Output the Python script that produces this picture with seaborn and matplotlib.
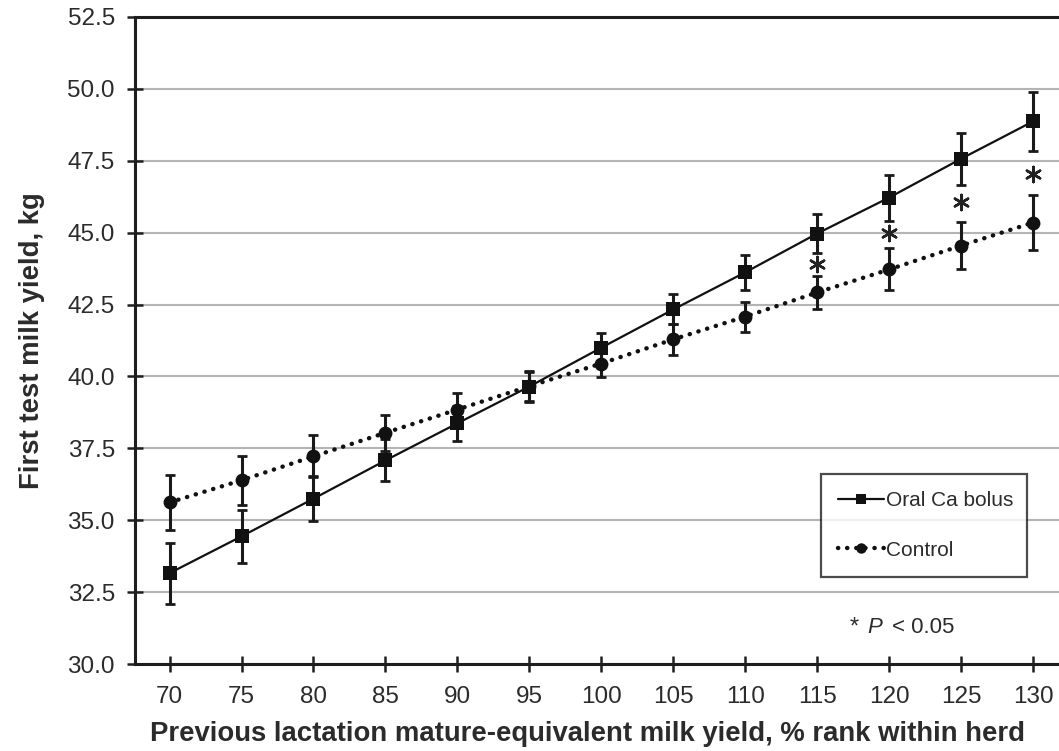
import matplotlib
matplotlib.use("Agg")
import matplotlib.pyplot as plt
import seaborn as sns
import pandas as pd

# ---- data ----
rank = [70, 75, 80, 85, 90, 95, 100, 105, 110, 115, 120, 125, 130]
bolus_mean = [33.16, 34.44, 35.75, 37.08, 38.37, 39.65, 41.00, 42.33, 43.62, 44.97, 46.22, 47.57, 48.87]
bolus_err = [1.06, 0.92, 0.78, 0.73, 0.60, 0.55, 0.50, 0.52, 0.60, 0.68, 0.80, 0.90, 1.02]
control_mean = [35.62, 36.39, 37.22, 38.04, 38.85, 39.66, 40.45, 41.29, 42.08, 42.92, 43.72, 44.55, 45.35]
control_err = [0.96, 0.86, 0.73, 0.63, 0.57, 0.50, 0.46, 0.53, 0.52, 0.58, 0.73, 0.83, 0.95]
sig_rank = [115, 120, 125, 130]
sig_y = [43.9, 45.0, 46.05, 47.05]
yticks = [30.0, 32.5, 35.0, 37.5, 40.0, 42.5, 45.0, 47.5, 50.0, 52.5]
xticks = [70, 75, 80, 85, 90, 95, 100, 105, 110, 115, 120, 125, 130]
label_bolus = "Oral Ca bolus"
label_control = "Control"

df = pd.DataFrame({"rank": rank, "bolus": bolus_mean, "control": control_mean})

sns.set_theme(style="white")
plt.rcParams["font.family"] = ["Liberation Sans", "DejaVu Sans"]

text_col = "#2b2b2b"
fig = plt.figure(figsize=(10.59, 7.51), dpi=100)
ax = fig.add_axes([0.1275, 0.1158, 0.8725, 0.8616])

ax.yaxis.grid(True, color="#b4b4b4", linewidth=1.5, zorder=0)
ax.set_axisbelow(True)

ax.errorbar(rank, bolus_mean, yerr=bolus_err, fmt="none", ecolor="#1a1a1a",
            elinewidth=2.2, capsize=3.8, capthick=2.0, zorder=3)
ax.errorbar(rank, control_mean, yerr=control_err, fmt="none", ecolor="#1a1a1a",
            elinewidth=2.2, capsize=3.8, capthick=2.0, zorder=3)

sns.lineplot(data=df, x="rank", y="bolus", ax=ax, color="#111111", linewidth=1.6,
             marker="s", markersize=10, markeredgewidth=0, label=label_bolus, zorder=4)
sns.lineplot(data=df, x="rank", y="control", ax=ax, color="#111111", linewidth=3.2,
             linestyle=(0, (0.05, 2.0)), dash_capstyle="round",
             marker="o", markersize=10, markeredgewidth=0, label=label_control, zorder=4)

ax.scatter(sig_rank, sig_y, marker=(6, 2, 0), s=120, color="#222222", linewidths=1.8, zorder=5)

ax.set_xlim(67.6, 131.8)
ax.set_ylim(30.0, 52.5)
ax.set_xticks(xticks)
ax.set_yticks(yticks)
ax.set_yticklabels([f"{v:.1f}" for v in yticks])

for side in ["left", "bottom", "top"]:
    ax.spines[side].set_visible(True)
    ax.spines[side].set_color("#1e1e1e")
    ax.spines[side].set_linewidth(2.2)
ax.spines["right"].set_visible(False)

ax.tick_params(axis="both", which="major", bottom=True, left=True, top=False, right=False,
               direction="inout", length=11, width=1.8, color="#1e1e1e",
               labelsize=17.5, labelcolor=text_col)
ax.tick_params(axis="y", pad=9)
ax.tick_params(axis="x", pad=10)

ax.set_xlabel("Previous lactation mature-equivalent milk yield, % rank within herd",
              fontsize=19.8, fontweight="bold", color=text_col)
ax.set_ylabel("First test milk yield, kg", fontsize=19.8, fontweight="bold", color=text_col)
ax.xaxis.set_label_coords(0.49, -0.088)
ax.yaxis.set_label_coords(-0.097, 0.5)

leg = ax.legend(loc="lower left", bbox_to_anchor=(0.742, 0.134, 0.223, 0.158), mode="expand",
                frameon=True, fancybox=False, fontsize=15, handlelength=2.2, handletextpad=0.1,
                markerscale=0.75, labelspacing=1.45, borderpad=0.85, borderaxespad=0)
leg.get_frame().set_edgecolor("#1e1e1e")
leg.get_frame().set_linewidth(1.6)
for t in leg.get_texts():
    t.set_color(text_col)

ax.text(0.773, 0.057, "*", transform=ax.transAxes, fontsize=17, color=text_col, va="center")
ax.text(0.793, 0.057, "P", transform=ax.transAxes, fontsize=16, style="italic",
        color=text_col, va="center")
ax.text(0.819, 0.057, "< 0.05", transform=ax.transAxes, fontsize=16, color=text_col, va="center")

fig.savefig("out.png", dpi=100)
